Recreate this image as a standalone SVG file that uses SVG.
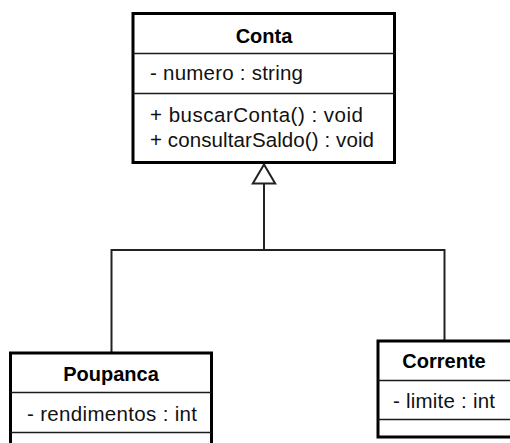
<svg xmlns="http://www.w3.org/2000/svg" width="510" height="443" viewBox="0 0 510 443">
  <style>
    .box { fill: #ffffff; stroke: #000000; stroke-width: 3; }
    .div { stroke: #1a1a1a; stroke-width: 1.6; }
    .title { font-family: "Liberation Sans", Arial, sans-serif; font-size: 20px; font-weight: bold; fill: #000; text-anchor: middle; }
    .member { font-family: "Liberation Sans", Arial, sans-serif; font-size: 20.5px; fill: #111; }
    .conn { fill: none; stroke: #222222; stroke-width: 2; }
    .head { fill: #ffffff; stroke: #222222; stroke-width: 2; }
  </style>
  <rect width="510" height="443" fill="#ffffff"/>
  <g id="connectors">
    <polyline class="conn" points="264,183.5 264,250"/>
    <polyline class="conn" points="111.5,352 111.5,250 444.5,250 444.5,340"/>
    <polygon class="head" points="264,164.5 252.8,183.5 275.2,183.5"/>
  </g>
  <g id="Conta">
    <rect class="box" x="133" y="13.5" width="261.5" height="149"/>
    <line class="div" x1="133" y1="53.5" x2="394.5" y2="53.5"/>
    <line class="div" x1="133" y1="93.5" x2="394.5" y2="93.5"/>
    <text class="title" x="264" y="43">Conta</text>
    <text class="member" x="150" y="80" textLength="153" lengthAdjust="spacing">- numero : string</text>
    <text class="member" x="150" y="122" textLength="213" lengthAdjust="spacing">+ buscarConta() : void</text>
    <text class="member" x="150" y="146.5" textLength="224" lengthAdjust="spacing">+ consultarSaldo() : void</text>
  </g>
  <g id="Poupanca">
    <rect class="box" x="10.5" y="353" width="201" height="100"/>
    <line class="div" x1="10.5" y1="392.5" x2="211.5" y2="392.5"/>
    <line class="div" x1="10.5" y1="432.5" x2="211.5" y2="432.5"/>
    <text class="title" x="111" y="381">Poupanca</text>
    <text class="member" x="27" y="421" textLength="170" lengthAdjust="spacing">- rendimentos : int</text>
  </g>
  <g id="Corrente">
    <rect class="box" x="378" y="341" width="134" height="96"/>
    <line class="div" x1="378" y1="380.5" x2="512" y2="380.5"/>
    <line class="div" x1="378" y1="419.5" x2="512" y2="419.5"/>
    <text class="title" x="444" y="368">Corrente</text>
    <text class="member" x="393" y="408" textLength="102" lengthAdjust="spacing">- limite : int</text>
  </g>
</svg>
